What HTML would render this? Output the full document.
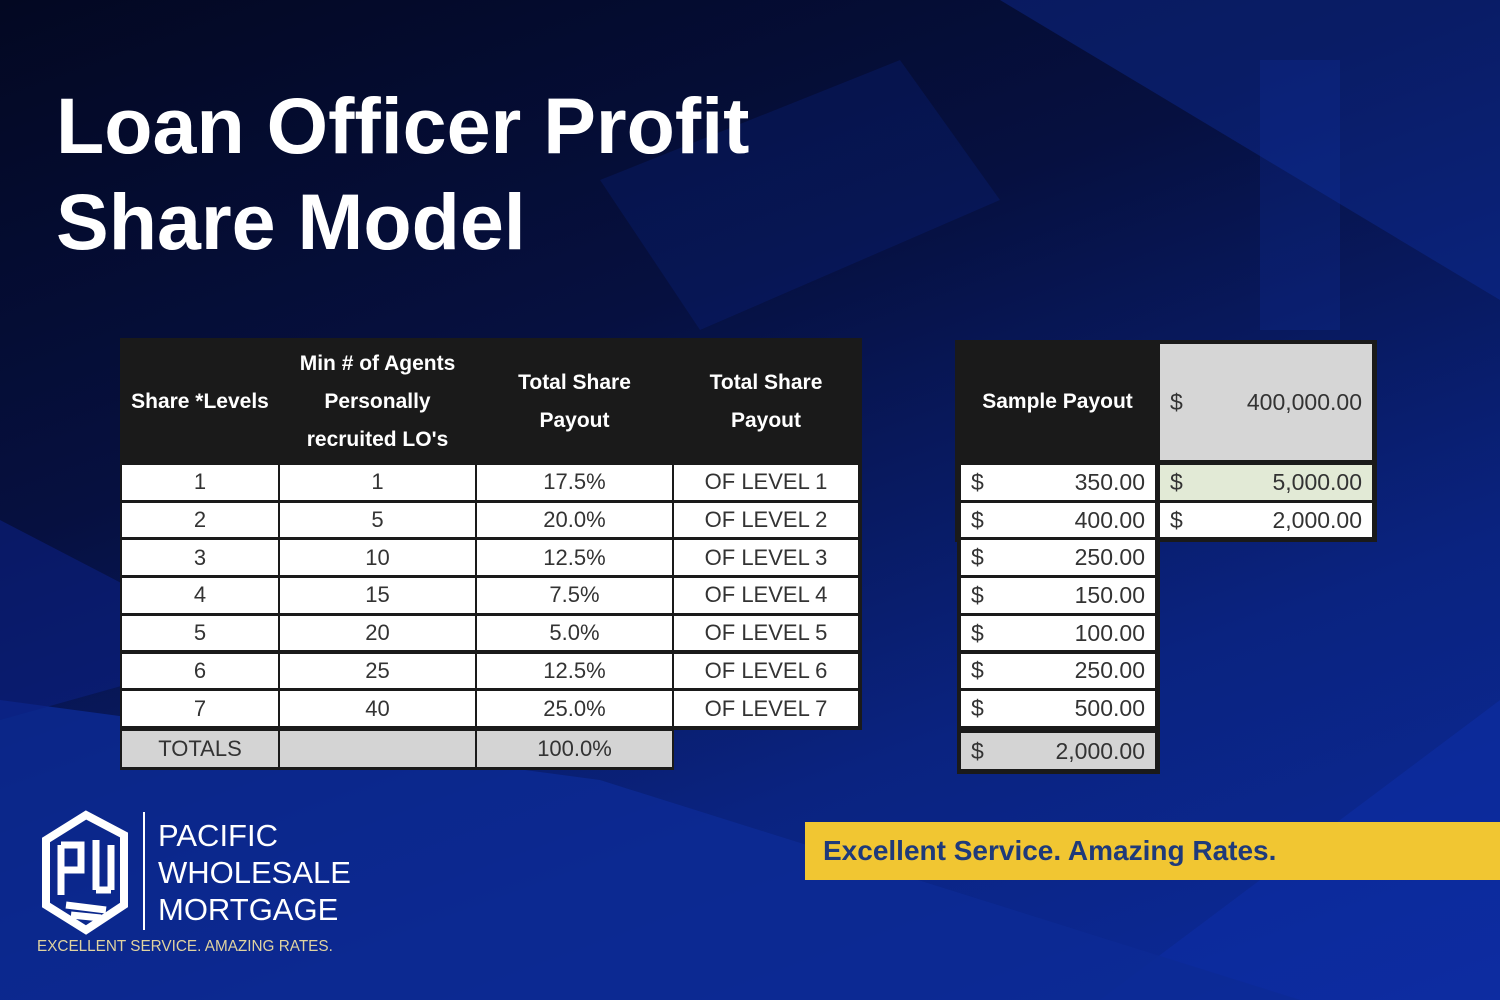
<!DOCTYPE html>
<html><head><meta charset="utf-8">
<style>
*{margin:0;padding:0;box-sizing:border-box}
body{width:1500px;height:1000px;overflow:hidden;position:relative;font-family:"Liberation Sans",sans-serif;
background:linear-gradient(160deg,#030822 0%,#061040 35%,#0a2380 70%,#0c2a9a 100%);}
.abs{position:absolute}
.cell{position:absolute;background:#fff;color:#333;font-size:22px;display:flex;align-items:center;justify-content:center}
.hdr{position:absolute;color:#fff;font-weight:bold;font-size:21px;display:flex;align-items:center;justify-content:center;text-align:center;line-height:38px}
.money{justify-content:space-between;padding:0 10px 0 10px;font-size:23px}
</style></head><body>
<svg class="abs" width="1500" height="1000" style="left:0;top:0">
<polygon points="1500,0 1500,1000 1100,1000 1500,700" fill="#0d2ea8" opacity="0.5"/>
<polygon points="0,700 600,780 1300,1000 0,1000" fill="#0c2a95" opacity="0.8"/>
<polygon points="0,520 250,650 0,720" fill="#0b2080" opacity="0.6"/>
<polygon points="1000,0 1500,0 1500,300 1200,120" fill="#0e2fa0" opacity="0.4"/>
<polygon points="600,180 900,60 1000,200 700,330" fill="#0a2690" opacity="0.25"/>
<polygon points="1260,60 1340,60 1340,330 1260,330" fill="#1136b0" opacity="0.22"/>
</svg>
<div class="abs" style="left:56px;top:78px;color:#fff;font-weight:bold;font-size:79px;line-height:96px;letter-spacing:0px">Loan Officer Profit<br>Share Model</div>

<div class="abs" id="t1" style="left:120px;top:338px;width:742px;height:392px;background:#1a1a1a"></div>
<div class="abs" id="t1tot" style="left:120px;top:728px;width:554px;height:42px;background:#1a1a1a"></div>
<div class="abs" id="t2" style="left:955px;top:340px;width:422px;height:202px;background:#1a1a1a"></div>
<div class="abs" id="t3" style="left:957px;top:460px;width:203px;height:314px;background:#1a1a1a"></div>

<div class="abs" style="left:805px;top:822px;width:695px;height:58px;background:#f1c632;color:#1f3a7a;font-weight:bold;font-size:28px;line-height:58px;padding-left:18px">Excellent Service. Amazing Rates.</div>

<svg class="abs" width="100" height="130" style="left:36px;top:810px">
<polygon points="10,30 50,5 88,25 88,95 50,120 10,95" fill="none" stroke="#fff" stroke-width="8"/>
<path d="M25,35 V85 M25,35 H45 V60 H25 M60,30 V80 M75,35 V80 M60,80 H75 M30,95 L70,100 M35,105 L65,108" stroke="#fff" stroke-width="7" fill="none"/>
</svg>
<div class="abs" style="left:143px;top:812px;width:2px;height:118px;background:#fff"></div>
<div class="abs" style="left:158px;top:817px;color:#fff;font-size:31px;line-height:37px">PACIFIC<br>WHOLESALE<br>MORTGAGE</div>
<div class="abs" style="left:37px;top:938px;color:#e0d3a0;font-size:15.3px">EXCELLENT SERVICE. AMAZING RATES.</div>

<script>
const levels=["1","2","3","4","5","6","7"];
const minAgents=["1","5","10","15","20","25","40"];
const sharePct=["17.5%","20.0%","12.5%","7.5%","5.0%","12.5%","25.0%"];
const ofLevel=["OF LEVEL 1","OF LEVEL 2","OF LEVEL 3","OF LEVEL 4","OF LEVEL 5","OF LEVEL 6","OF LEVEL 7"];
const payouts=["350.00","400.00","250.00","150.00","100.00","250.00","500.00"];
const payoutTotal="2,000.00";
const sampleTotal="400,000.00";
const sideValues=["5,000.00","2,000.00"];
const totalPct="100.0%";

const colX=[122,280,477,674], colW=[156,195,195,184];
const rowTop=465, rowH=37.7;
function mk(cls,name,l,t,w,h,html,bg){
  const d=document.createElement('div');d.className=cls;
  
  
  d.style.left=l+'px';d.style.top=t+'px';d.style.width=w+'px';d.style.height=h+'px';
  d.innerHTML=html;if(bg)d.style.background=bg;document.body.appendChild(d);return d;
}
const hdrs=["Share *Levels","Min # of Agents<br>Personally<br>recruited LO's","Total Share<br>Payout","Total Share<br>Payout"];
hdrs.forEach((h,i)=>mk('hdr','header-cell',colX[i],342,colW[i],120,h));
const cols=[levels,minAgents,sharePct,ofLevel];
levels.forEach((_,r)=>{
  cols.forEach((c,i)=>mk('cell','share-cell',colX[i],rowTop+r*rowH,colW[i],rowH-3,c[r]));
});
mk('cell','totals-label',122,731,156,36,'TOTALS','#d4d4d4');
mk('cell','totals-blank',280,731,195,36,'','#d4d4d4');
mk('cell','totals-pct',477,731,195,36,totalPct,'#d4d4d4');

mk('hdr','sample-payout-header',957,342,201,120,'Sample Payout');
mk('cell money','sample-total',1160,344,212,116,'<span>$</span><span>'+sampleTotal+'</span>','#d6d6d6');
payouts.forEach((p,r)=>mk('cell money','payout-cell',961,rowTop+r*rowH,194,rowH-3,'<span>$</span><span>'+p+'</span>'));
mk('cell money','payout-total',961,733,194,36,'<span>$</span><span>'+payoutTotal+'</span>','#d4d4d4');
sideValues.forEach((v,r)=>mk('cell money','side-value',1160,rowTop+r*rowH,212,rowH-3,'<span>$</span><span>'+v+'</span>',r===0?'#e2ead6':'#fff'));
</script>
</body></html>
